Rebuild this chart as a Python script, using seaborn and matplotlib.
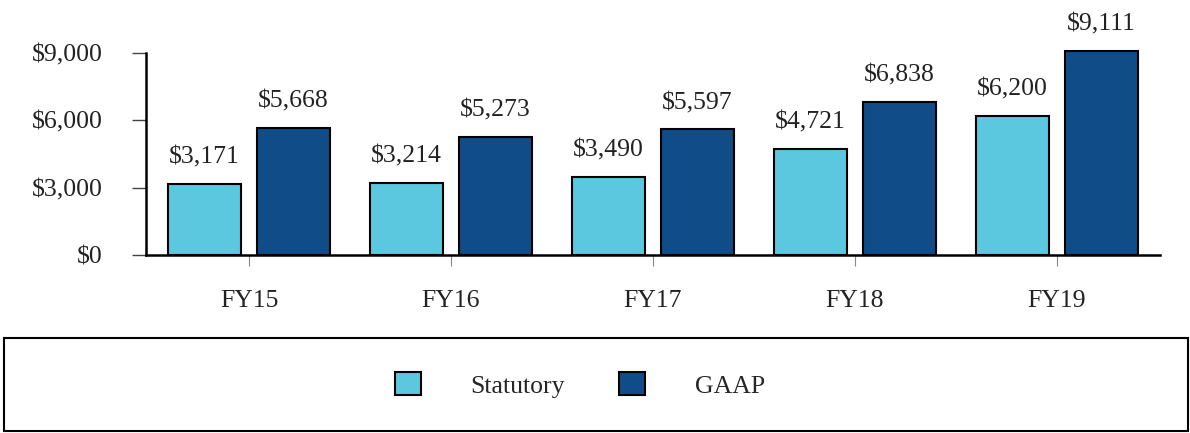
import matplotlib
matplotlib.use("Agg")
import matplotlib.pyplot as plt
import seaborn as sns
import pandas as pd
from matplotlib.patches import Rectangle, Patch

years = ["FY15", "FY16", "FY17", "FY18", "FY19"]
statutory = [3171, 3214, 3490, 4721, 6200]
gaap = [5668, 5273, 5597, 6838, 9111]
series_names = ["Statutory", "GAAP"]
yticks = [0, 3000, 6000, 9000]
ytick_labels = ["$0", "$3,000", "$6,000", "$9,000"]

colors = {"Statutory": "#5cc8df", "GAAP": "#0f4c88"}
FS = 18.5

df = pd.DataFrame({
    "year": years * 2,
    "series": [series_names[0]] * len(years) + [series_names[1]] * len(years),
    "value": statutory + gaap,
})

sns.set_theme(style="white")
plt.rcParams["font.family"] = ["Liberation Serif", "DejaVu Serif"]

fig = plt.figure(figsize=(11.9, 4.33), dpi=100)
ax = fig.add_axes([146 / 1190, 1 - 255 / 433, (1160 - 146) / 1190, (255 - 53) / 433])

sns.barplot(data=df, x="year", y="value", hue="series", order=years,
            hue_order=series_names, palette=colors, saturation=1, width=0.88, gap=0.18,
            edgecolor="black", linewidth=1.5, ax=ax, legend=False, errorbar=None)

for p in ax.patches:
    p.set_clip_on(False)

for cont in ax.containers:
    for bar in cont:
        h = bar.get_height()
        ax.annotate(f"${h:,.0f}", (bar.get_x() + bar.get_width() / 2, h),
                    xytext=(0, 11), textcoords="offset points",
                    ha="center", va="bottom", fontsize=FS, color="#222222",
                    annotation_clip=False)

ax.set_xlim(-0.51, 4.51)
ax.set_ylim(0, 9000)
ax.set_yticks(yticks)
ax.set_yticklabels(ytick_labels)
ax.set_xlabel("")
ax.set_ylabel("")
for s in ["top", "right"]:
    ax.spines[s].set_visible(False)
for s in ["left", "bottom"]:
    ax.spines[s].set_color("black")
    ax.spines[s].set_linewidth(1.8)
ax.tick_params(axis="y", which="major", length=10, width=1.0, color="#444444",
               pad=21, labelsize=FS, left=True)
ax.tick_params(axis="x", which="major", length=8, width=0.8, color="#888888",
               pad=17, labelsize=FS, bottom=True)
for lab in ax.get_xticklabels() + ax.get_yticklabels():
    lab.set_color("#222222")

# legend box
fig.patches.append(Rectangle((4 / 1190, 1 - 431 / 433), (1188 - 4) / 1190, (431 - 338) / 433,
                             transform=fig.transFigure, fill=False, edgecolor="black",
                             linewidth=1.5))
handles = [Patch(facecolor=colors[n], edgecolor="black", linewidth=1.5) for n in series_names]
fig.legend(handles, series_names, loc="center", bbox_to_anchor=(580 / 1190, 1 - 385 / 433),
           ncol=2, frameon=False, fontsize=FS, handlelength=1.0, handleheight=0.97,
           handletextpad=1.95, columnspacing=2.1)

fig.savefig("out.png", dpi=100)
